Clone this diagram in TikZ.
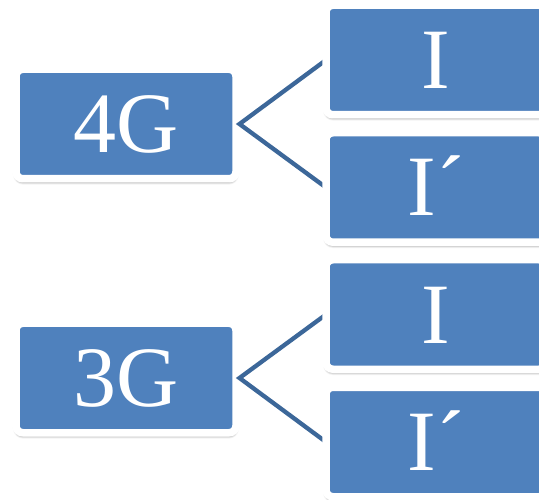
\documentclass[tikz,border=0pt]{standalone}
\usepackage{fontspec}
\setmainfont{Liberation Serif}
\usetikzlibrary{shadows.blur}
\definecolor{boxblue}{RGB}{79,129,189}
\definecolor{linkblue}{RGB}{60,103,153}
\begin{document}
\begin{tikzpicture}[x=1pt,y=-1pt,
  genbox/.style={rectangle, rounded corners=7pt, fill=boxblue, draw=white,
    line width=7.5pt, minimum width=220pt, minimum height=109.5pt,
    inner sep=0pt, outer sep=0pt, text=white,
    font=\fontsize{86}{86}\selectfont, text height=57pt, text depth=0pt,
    blur shadow={shadow xshift=0pt, shadow yshift=-3pt,
      shadow blur radius=3pt, shadow blur steps=8, shadow opacity=60}},
  link/.style={draw=linkblue, line width=4.3pt, line join=miter}]
\useasboundingbox (0,0) rectangle (539,500);
\clip (0,0) rectangle (539,500);
% left edges of the variant boxes
\coordinate (t1w) at (326,60);
\coordinate (t2w) at (326,187.5);
\coordinate (t3w) at (326,314.5);
\coordinate (t4w) at (326,442);
% generation boxes
\node[genbox] (g4) at (126,124) {4G};
\node[genbox] (g3) at (126,378) {3G};
% branches
\draw[link] (t1w) -- ([xshift=3.5pt]g4.east) -- (t2w);
\draw[link] (t3w) -- ([xshift=3.5pt]g3.east) -- (t4w);
% variant boxes, covering the branch ends
\node[genbox, anchor=west] (t1) at (t1w) {I};
\node[genbox, anchor=west] (t2) at (t2w) {I´};
\node[genbox, anchor=west] (t3) at (t3w) {I};
\node[genbox, anchor=west] (t4) at (t4w) {I´};
\end{tikzpicture}
\end{document}
